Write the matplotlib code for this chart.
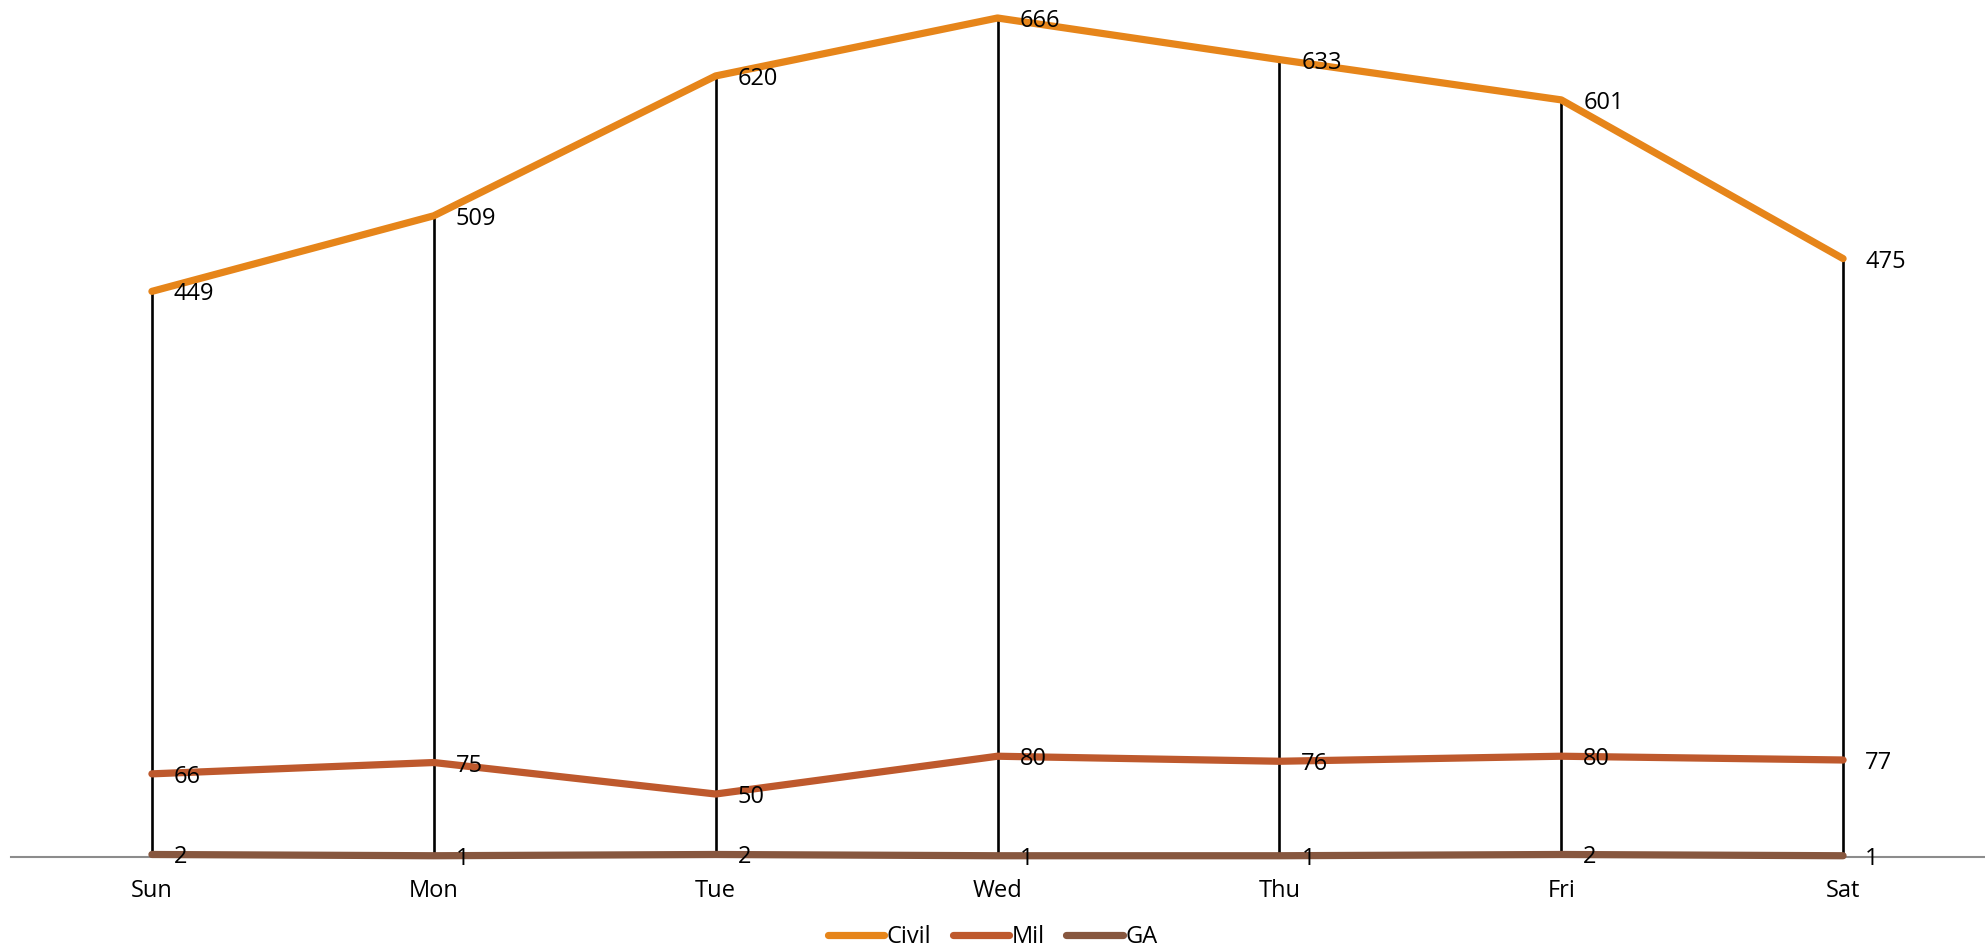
import matplotlib
matplotlib.use("Agg")
import matplotlib.pyplot as plt

days = ["Sun", "Mon", "Tue", "Wed", "Thu", "Fri", "Sat"]
civil = [449, 509, 620, 666, 633, 601, 475]
mil = [66, 75, 50, 80, 76, 80, 77]
ga = [2, 1, 2, 1, 1, 2, 1]

series = [("Civil", civil, "#E6851A"),
          ("Mil", mil, "#BE592D"),
          ("GA", ga, "#87573F")]

plt.rcParams["font.family"] = ["Open Sans", "DejaVu Sans"]
FS = 17

W, H = 1985, 951
fig = plt.figure(figsize=(W / 100, H / 100), dpi=100)
ymax = 680
px_per_unit = 839 / 666
ax_h = ymax * px_per_unit
ax = fig.add_axes([11 / W, 94 / H, 1973 / W, ax_h / H])

x = list(range(len(days)))

# drop lines from the highest series down to the axis
ax.vlines(x, 0, [max(v) for v in zip(civil, mil, ga)], colors="black",
          linewidth=1.9, zorder=2)

for name, vals, color in series:
    ax.plot(x, vals, color=color, linewidth=5.2, solid_capstyle="round",
            solid_joinstyle="round", label=name, zorder=3, clip_on=False)
    for xi, v in zip(x, vals):
        ax.annotate(str(v), (xi, v), xytext=(22, -3), textcoords="offset pixels",
                    ha="left", va="center", fontsize=FS, color="black", zorder=4)

ax.set_xlim(-0.5, len(days) - 0.5)
ax.set_ylim(0, ymax)
ax.set_xticks(x)
ax.set_xticklabels(days, fontsize=FS)
ax.tick_params(axis="x", length=0, pad=16)
ax.set_yticks([])
for s in ["top", "right", "left"]:
    ax.spines[s].set_visible(False)
ax.spines["bottom"].set_color("#8C8C8C")
ax.spines["bottom"].set_linewidth(1.5)
ax.spines["bottom"].set_zorder(1)

fig.legend(loc="center", bbox_to_anchor=(0.5, 1 - 937 / H), ncol=3,
           frameon=False, fontsize=FS, handlelength=2.4, handletextpad=0.1,
           columnspacing=0.9, borderpad=0)

fig.savefig("out.png", dpi=100, facecolor="white")
